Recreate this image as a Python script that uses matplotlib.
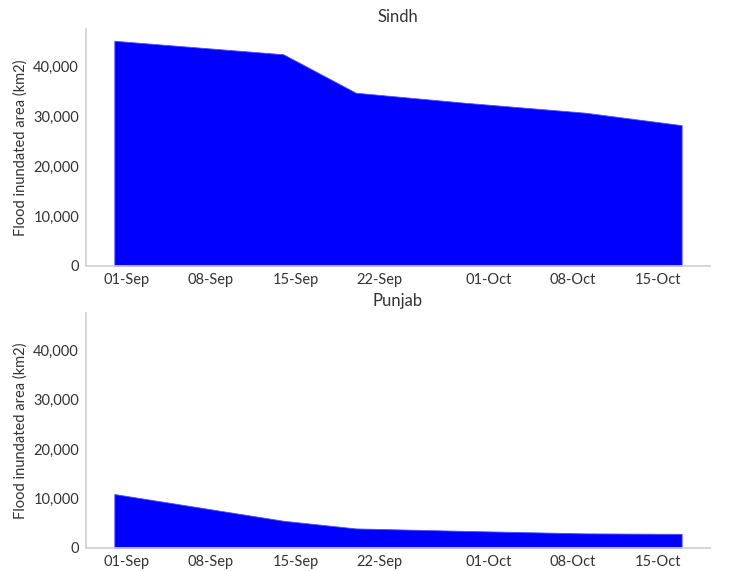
import numpy as np
import pandas as pd
import matplotlib
matplotlib.use("Agg")
import matplotlib.pyplot as plt
import matplotlib.dates as mdates
from matplotlib.ticker import FuncFormatter

# ---- data ----
dates = pd.to_datetime(["2022-08-31", "2022-09-14", "2022-09-20",
                        "2022-09-29", "2022-10-09", "2022-10-17"])
sindh = [45100, 42400, 34700, 32700, 30700, 28200]
punjab = [10900, 5500, 3950, 3450, 2950, 2850]
regions = ["Sindh", "Punjab"]

tick_dates = pd.to_datetime(["2022-09-01", "2022-09-08", "2022-09-15", "2022-09-22",
                             "2022-10-01", "2022-10-08", "2022-10-15"])
y_ticks = [0, 10000, 20000, 30000, 40000]

plt.rcParams['font.family'] = ['Lato', 'DejaVu Sans']
txt = '#333333'
spine_c = '#d0d0d0'

fig = plt.figure(figsize=(7.36, 5.71), dpi=100)
ax1 = fig.add_axes([0.1168, 0.5342, 0.8479, 0.4150])
ax2 = fig.add_axes([0.1168, 0.0403, 0.8479, 0.4115], sharey=ax1)

for ax, vals, name in zip([ax1, ax2], [sindh, punjab], regions):
    ax.fill_between(dates, vals, 0, color='blue', edgecolor='#4d4dff', linewidth=0.6)
    ax.set_title(name, fontsize=12, color=txt, pad=5)
    ax.set_ylabel("Flood inundated area (km2)", fontsize=10.5, color=txt, labelpad=4)
    ax.set_xticks(tick_dates)
    ax.xaxis.set_major_formatter(mdates.DateFormatter("%d-%b"))
    ax.set_yticks(y_ticks)
    ax.yaxis.set_major_formatter(FuncFormatter(lambda v, p: f"{int(v):,}"))
    ax.tick_params(length=0, labelsize=10.5, labelcolor=txt, pad=5)
    for s in ['top', 'right']:
        ax.spines[s].set_visible(False)
    for s in ['left', 'bottom']:
        ax.spines[s].set_color(spine_c)
        ax.spines[s].set_linewidth(1.2)

ax1.set_ylim(0, 47460)

fig.savefig("out.png", dpi=100)
